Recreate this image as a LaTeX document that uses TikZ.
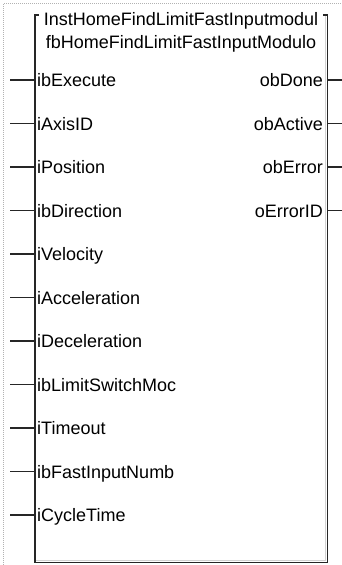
\documentclass[tikz,border=0pt]{standalone}
\usepackage{fontspec}
\setmainfont{Liberation Sans}
\begin{document}
\begin{tikzpicture}[x=1pt, y=-1pt,
    pintext/.style={inner sep=0pt, font=\fontsize{18}{18}\selectfont},
    pinline/.style={line width=1.8pt, draw=black!85}]

    \useasboundingbox (0,0) rectangle (342,565);

    % ============================================================
    % EDITOR FRAME
    % ============================================================
    \draw[gray!60, densely dotted, line width=1pt] (3.5,565) -- (3.5,3.5) -- (342,3.5);

    % ============================================================
    % FUNCTION BLOCK
    % ============================================================
    \node[minimum width=292pt, minimum height=547pt, anchor=north west,
        inner sep=0pt] (fb) at (35,15) {};
    \draw[gray!35, line width=1pt] ([xshift=-2.4pt]fb.north east)
        -- ([shift={(-2.4pt,2.4pt)}]fb.south east) -- ([yshift=2.4pt]fb.south west);
    \draw[pinline] ([xshift=4pt]fb.north west) -- (fb.north west)
        -- (fb.south west) -- (fb.south east) -- (fb.north east)
        -- ([xshift=-4pt]fb.north east);

    \node[pintext, anchor=base] (inst) at (181,25) {InstHomeFindLimitFastInputmodul};
    \node[pintext, anchor=base] (type) at (181,48) {fbHomeFindLimitFastInputModulo};

    % ============================================================
    % INPUTS
    % ============================================================
    \foreach \lbl [count=\i] in {ibExecute, iAxisID, iPosition, ibDirection,
        iVelocity, iAcceleration, iDeceleration, ibLimitSwitchMoc, iTimeout,
        ibFastInputNumb, iCycleTime} {
        \coordinate (inpin\i) at (10, {80+43.5*(\i-1)});
        \node[pintext, anchor=base west] (in\i) at (37, {86.5+43.5*(\i-1)}) {\lbl};
        \draw[pinline] (inpin\i) -- (inpin\i -| fb.west);
    }

    % ============================================================
    % OUTPUTS
    % ============================================================
    \foreach \lbl [count=\i] in {obDone, obActive, obError, oErrorID} {
        \coordinate (outpin\i) at (342, {80+43.5*(\i-1)});
        \node[pintext, anchor=base east] (out\i) at (323, {86.5+43.5*(\i-1)}) {\lbl};
        \draw[pinline] (outpin\i -| fb.east) -- (outpin\i);
    }

\end{tikzpicture}
\end{document}
